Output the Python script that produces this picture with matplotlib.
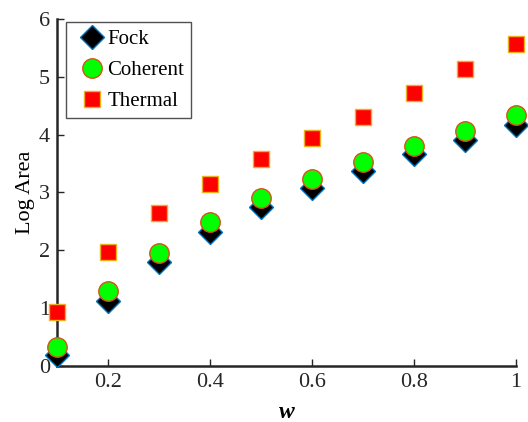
import matplotlib
matplotlib.use("Agg")
import matplotlib.pyplot as plt

w = [0.1, 0.2, 0.3, 0.4, 0.5, 0.6, 0.7, 0.8, 0.9, 1.0]
fock = [0.18, 1.13, 1.80, 2.32, 2.74, 3.07, 3.37, 3.66, 3.91, 4.16]
coherent = [0.33, 1.29, 1.96, 2.48, 2.90, 3.23, 3.53, 3.81, 4.07, 4.34]
thermal = [0.93, 1.97, 2.64, 3.15, 3.57, 3.95, 4.31, 4.72, 5.14, 5.57]

plt.rcParams['font.family'] = ['Liberation Serif', 'DejaVu Serif']
plt.rcParams['mathtext.fontset'] = 'stix'

fig = plt.figure(figsize=(5.28, 4.22), dpi=100)
ax = fig.add_axes([0.108, 0.133, 0.869, 0.822])

ax.plot(w, fock, linestyle='none', marker='D', markersize=12, markerfacecolor='black',
        markeredgecolor='#0072BD', markeredgewidth=1.0, label='Fock', clip_on=False, zorder=3)
ax.plot(w, coherent, linestyle='none', marker='o', markersize=14, markerfacecolor='#00FF00',
        markeredgecolor='#D95319', markeredgewidth=1.0, label='Coherent', clip_on=False, zorder=4)
ax.plot(w, thermal, linestyle='none', marker='s', markersize=11, markerfacecolor='#FF0000',
        markeredgecolor='#EDB120', markeredgewidth=1.0, label='Thermal', clip_on=False, zorder=5)

ax.set_xlim(0.1, 1.0)
ax.set_ylim(0, 6)
ax.set_xticks([0.2, 0.4, 0.6, 0.8, 1.0])
ax.set_xticklabels(['0.2', '0.4', '0.6', '0.8', '1'])
ax.set_yticks([0, 1, 2, 3, 4, 5, 6])
ax.tick_params(direction='in', labelsize=16, length=5, width=1, colors='#262626', pad=5)
for s in ['top', 'right']:
    ax.spines[s].set_visible(False)
for s in ['left', 'bottom']:
    ax.spines[s].set_linewidth(1.8)
    ax.spines[s].set_color('#262626')

ax.set_xlabel('w', fontsize=17, fontweight='bold', fontstyle='italic', labelpad=7)
ax.set_ylabel('Log Area', fontsize=16, labelpad=3)

leg = ax.legend(loc='upper left', bbox_to_anchor=(0.012, 1.0), fontsize=15, frameon=True,
                fancybox=False, edgecolor='#262626', handletextpad=-0.15, handlelength=1.8,
                borderpad=0.35, labelspacing=0.55, borderaxespad=0.15)
leg.get_frame().set_linewidth(1.0)

fig.savefig('out.png', dpi=100)
